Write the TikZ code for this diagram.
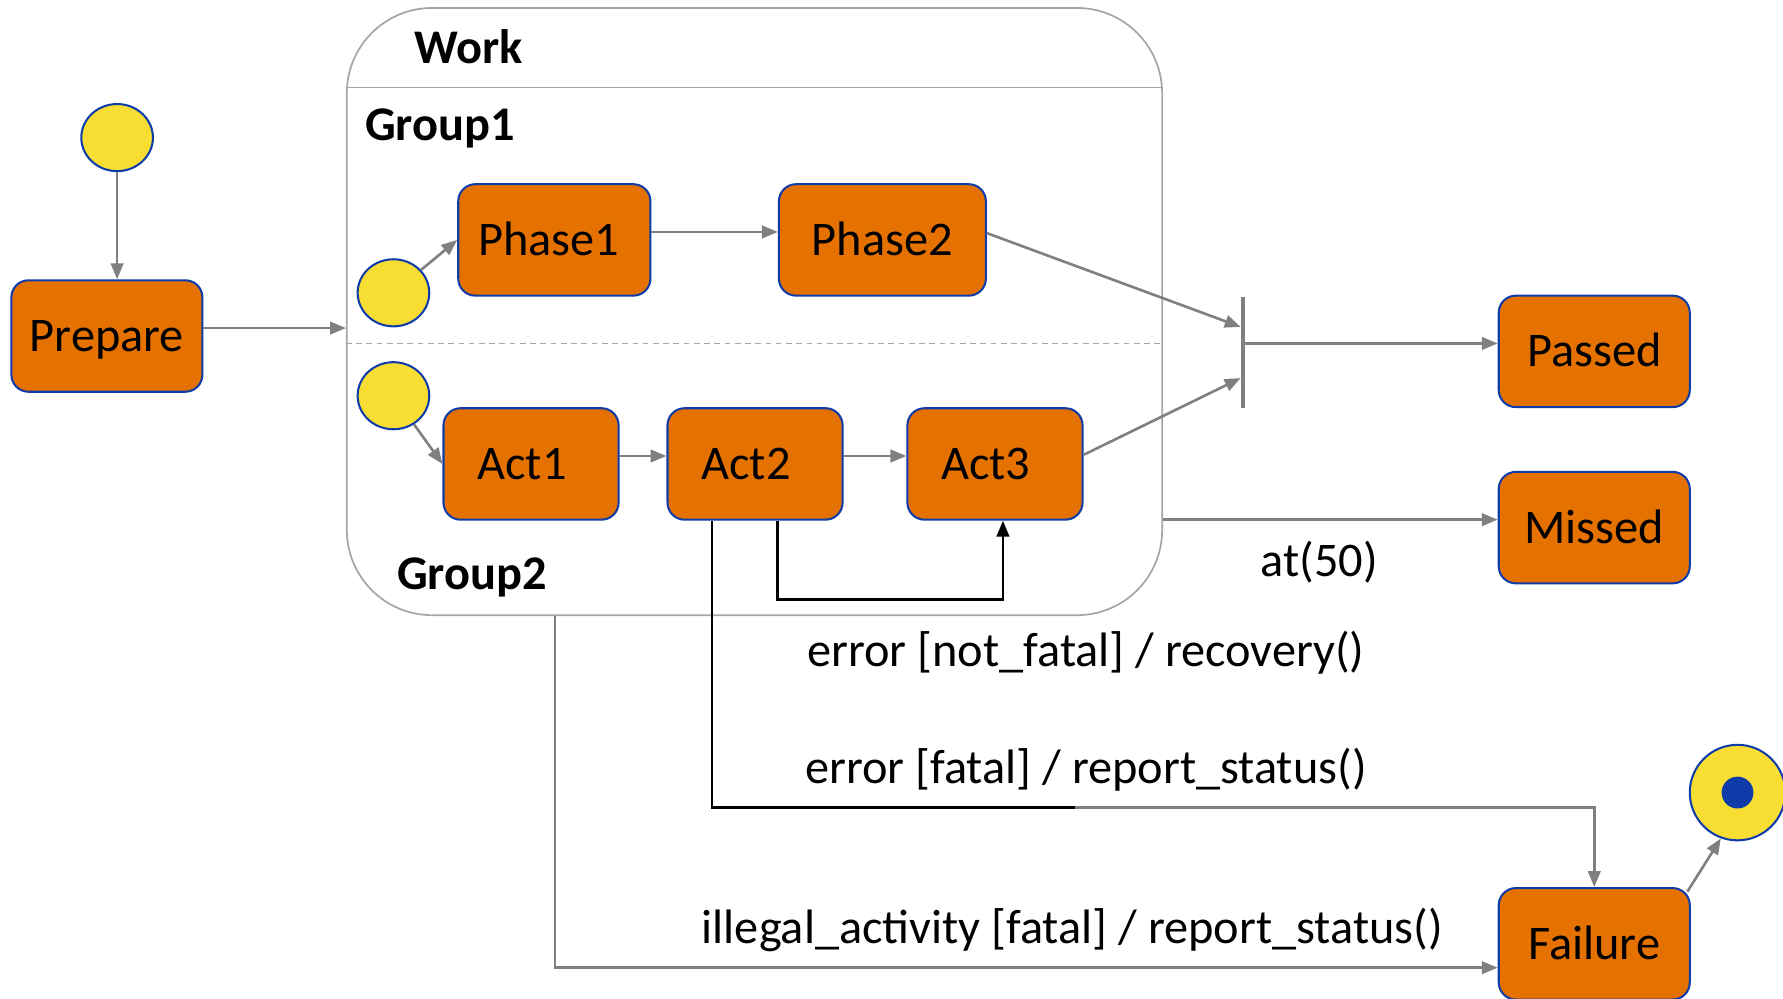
\documentclass[tikz,border=0pt]{standalone}
\usepackage{fontspec}
\setmainfont{Carlito}
\usetikzlibrary{arrows.meta,calc,shapes.geometric}
\definecolor{org}{RGB}{229,114,0}
\definecolor{bdr}{RGB}{16,60,170}
\definecolor{ylw}{RGB}{248,222,50}
\definecolor{garr}{RGB}{128,128,128}
\definecolor{wbdr}{RGB}{165,165,165}
\begin{document}
\begin{tikzpicture}[x=1pt,y=-1pt,
  statebox/.style={rectangle, rounded corners=15pt, fill=org, draw=bdr, line width=1.8pt, minimum height=98pt, inner sep=0pt, text height=32pt, text depth=4.6pt, font=\fontsize{42.5}{50}\selectfont},
  initst/.style={ellipse, fill=ylw, draw=bdr, line width=1.8pt, minimum width=63pt, minimum height=59pt, inner sep=0pt},
  garrow/.style={draw=garr, line width=2.3pt, -{Triangle[length=14pt,width=11pt]}},
  barrow/.style={draw=black, line width=2.3pt, -{Triangle[length=14pt,width=11pt]}},
  lbl/.style={font=\fontsize{42.5}{50}\selectfont, inner sep=0pt},
  hdr/.style={font=\bfseries\fontsize{42.5}{50}\selectfont, inner sep=0pt}
]
\useasboundingbox (0,0) rectangle (1568,878);

% container
\node[draw=wbdr, line width=1.5pt, rounded corners=75pt, minimum width=717pt, minimum height=534pt, inner sep=0pt] (work) at (663.5,274) {};
\coordinate (hl) at (0,77);
\coordinate (dl) at (0,302);
\draw[wbdr, line width=1.5pt] (work.west |- hl) -- (work.east |- hl);
\draw[wbdr, line width=1.2pt, dashed, dash pattern=on 5pt off 4pt] (work.west |- dl) -- (work.east |- dl);
\node[hdr] (worklbl) at (412,41) {Work};
\node[hdr] (g1lbl) at (387,113) {Group1};
\node[hdr] (g2lbl) at (415,508) {Group2};

% states
\node[initst] (init0) at (103,121) {};
\node[statebox, minimum width=168pt] (Prepare) at (94,295.5) {Prepare};
\node[initst] (init1) at (346,257.5) {};
\node[statebox, minimum width=169pt] (Phase1) at (487.5,211) {\hspace*{-10pt}Phase1};
\node[statebox, minimum width=182pt] (Phase2) at (776,211) {Phase2};
\node[initst] (init2) at (346,348) {};
\node[statebox, minimum width=154pt] (Act1) at (467,408) {\hspace*{-16pt}Act1};
\node[statebox, minimum width=154pt] (Act2) at (664,408) {\hspace*{-16pt}Act2};
\node[statebox, minimum width=154pt] (Act3) at (875,408) {\hspace*{-16pt}Act3};
\node[fill=garr, minimum width=3.5pt, minimum height=98pt, inner sep=0pt] (fork) at (1093,310) {};
\node[statebox, minimum width=168pt] (Passed) at (1402,309) {Passed};
\node[statebox, minimum width=168pt] (Missed) at (1402,464) {Missed};
\node[statebox, minimum width=168pt] (Failure) at (1402,830) {Failure};
\node[circle, fill=ylw, draw=bdr, line width=1.8pt, minimum size=84pt, inner sep=0pt] (fin) at (1528,697) {};
\fill[bdr] (fin.center) circle (14pt);

% transitions
\draw[garrow] (init0) -- (Prepare.north -| init0);
\draw[garrow] ([yshift=7pt]Prepare.east) -- ([yshift=7pt]Prepare.east -| work.west);
\draw[garrow] (init1) -- (Phase1.west);
\draw[garrow] ([yshift=7pt]Phase1.east) -- ([yshift=7pt]Phase2.west);
\draw[garrow] (init2) -- (Act1.west);
\draw[garrow] ([yshift=7pt]Act1.east) -- ([yshift=7pt]Act2.west);
\draw[garrow] ([yshift=7pt]Act2.east) -- ([yshift=7pt]Act3.west);
\draw[garrow] ([yshift=6pt]Phase2.east) -- ([yshift=22.5pt]fork.west);
\draw[garrow] ([yshift=8pt]Act3.east) -- ([yshift=-22.5pt]fork.west);
\draw[garrow] ([yshift=7pt]Passed.west -| fork.east) -- ([yshift=7pt]Passed.west);
\draw[garrow] ([yshift=7pt]Missed.west -| work.east) -- ([yshift=7pt]Missed.west);
\node[lbl] (at50) at (1160,494) {at(50)};

% not fatal loop
\coordinate (nfa) at (684,527);
\coordinate (nfb) at (882,527);
\draw[barrow] (nfa |- Act2.south) -- (nfa) -- (nfb) -- (nfb |- Act3.south);
\node[lbl] (nflbl) at (955,574) {error [not\_fatal] / recovery()};

% fatal
\coordinate (fa) at (626,710);
\coordinate (fb) at (945,710);
\draw[black, line width=2.3pt] (fa |- Act2.south) -- (fa) -- (fb);
\draw[garrow] (fb) -- (fb -| Failure.north) -- (Failure.north);
\node[lbl] (flbl) at (955,677) {error [fatal] / report\_status()};

% illegal
\coordinate (il) at (488,851);
\draw[garrow] (il |- work.south) -- (il) -- (il -| Failure.west);
\node[lbl] (illbl) at (943,818) {illegal\_activity [fatal] / report\_status()};

% final
\draw[garrow] ([xshift=-3pt,yshift=-4pt]Failure.north east) -- (fin.250);
\end{tikzpicture}
\end{document}
